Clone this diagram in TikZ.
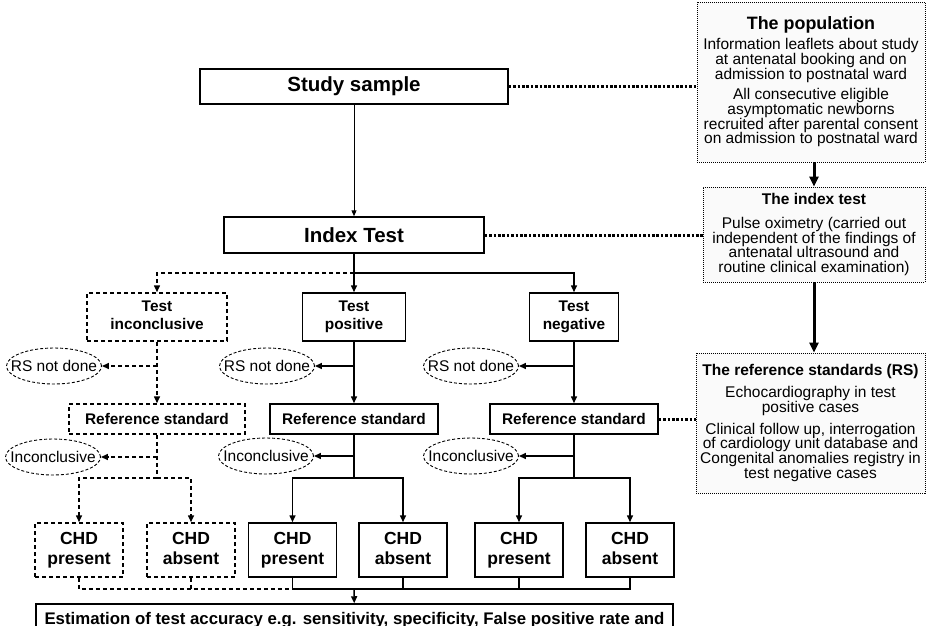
\documentclass[tikz,border=0pt]{standalone}
\usepackage{fontspec}
\setmainfont{Liberation Sans}
\usetikzlibrary{shapes.geometric,arrows.meta}

\begin{document}
\begin{tikzpicture}[x=1pt,y=-1pt,
	wire/.style={line width=1.5pt},
	dashy/.style={dash pattern=on 4pt off 3pt},
	dwire/.style={wire,dashy},
	arr/.style={wire,-{Triangle[length=7pt,width=6pt]}},
	darr/.style={arr,dashy},
	box/.style={draw,wire,fill=white,align=center,inner sep=0pt,font=\bfseries\fontsize{15.4}{18}\selectfont},
	dbox/.style={box,dashy},
	chd/.style={box,minimum width=88pt,minimum height=54pt,font=\bfseries\fontsize{17.5}{20}\selectfont},
	oval/.style={ellipse,draw,line width=0.9pt,dash pattern=on 3pt off 2pt,inner sep=0pt,minimum width=95pt,minimum height=36pt,font=\fontsize{15.5}{17}\selectfont},
	info/.style={draw,line width=0.9pt,dash pattern=on 1pt off 1pt,fill=gray!4,align=center,inner sep=0pt,font=\fontsize{15.5}{14.7}\selectfont},
	link/.style={line width=3pt,dash pattern=on 2.6pt off 1.8pt},
	bigarr/.style={line width=3pt,-{Triangle[length=10pt,width=9pt]}}]
	\path[use as bounding box,clip] (0,0) rectangle (927,626);

	\node[box,minimum width=308pt,minimum height=35pt,font=\bfseries\fontsize{20.5}{24}\selectfont] (study) at (354,86.5) {Study sample};
	\node[box,minimum width=260pt,minimum height=36pt,font=\bfseries\fontsize{20.5}{24}\selectfont] (index) at (354,235) {Index Test};
	\coordinate (split) at (354,273);

	\node[dbox,minimum width=140pt,minimum height=48pt] (tinc) at (157,317) {Test\\inconclusive\vphantom{p}};
	\node[box,minimum width=103pt,minimum height=48pt] (tpos) at (354,317) {Test\\positive};
	\node[box,minimum width=89pt,minimum height=48pt] (tneg) at (574,317) {Test\\negative};

	\node[oval] (nd1) at (54,366) {\makebox[0pt]{RS not done}};
	\node[oval] (nd2) at (267,366) {\makebox[0pt]{RS not done}};
	\node[oval] (nd3) at (471,366) {\makebox[0pt]{RS not done}};

	\node[dbox,minimum width=176pt,minimum height=30pt] (rs1) at (157,419) {Reference standard};
	\node[box,minimum width=168pt,minimum height=30pt] (rs2) at (354,419) {Reference standard};
	\node[box,minimum width=168pt,minimum height=30pt] (rs3) at (574,419) {Reference standard};

	\node[oval] (inc1) at (53,457) {\makebox[0pt]{Inconclusive}};
	\node[oval] (inc2) at (266,456) {\makebox[0pt]{Inconclusive}};
	\node[oval] (inc3) at (471,456) {\makebox[0pt]{Inconclusive}};
	\coordinate (b1) at (157,478);
	\coordinate (b2) at (354,478);
	\coordinate (b3) at (574,478);

	\node[chd,dashy] (chd1) at (79,550) {CHD\\present};
	\node[chd,dashy] (chd2) at (191,550) {CHD\\absent\vphantom{p}};
	\node[chd] (chd3) at (292.5,550) {CHD\\present};
	\node[chd] (chd4) at (403,550) {CHD\\absent\vphantom{p}};
	\node[chd] (chd5) at (519,550) {CHD\\present};
	\node[chd] (chd6) at (630,550) {CHD\\absent\vphantom{p}};
	\coordinate (bus) at (354,589);

	\node[box,minimum width=637pt,minimum height=32pt,font=\bfseries\fontsize{16.8}{18}\selectfont] (est) at (354.5,620) {Estimation of test accuracy e.g. sensitivity, specificity, False positive rate and};

	\node[info,minimum width=228pt,minimum height=160pt] (pop) at (811,82) {{\bfseries\fontsize{17.9}{20}\selectfont The population}\\[4pt]
		Information leaflets about study\\at antenatal booking and on\\admission to postnatal ward\\[6pt]
		All consecutive eligible\\asymptomatic newborns\\recruited after parental consent\\on admission to postnatal ward};
	\node[info,minimum width=222pt,minimum height=95pt] (itb) at (814,234.5) {{\bfseries The index test}\\[9pt]
		Pulse oximetry (carried out\\independent of the findings of\\antenatal ultrasound and\\routine clinical examination)};
	\node[info,minimum width=229pt,minimum height=140pt] (rsb) at (810.5,423) {{\bfseries The reference standards (RS)}\\[7pt]
		Echocardiography in test\\positive cases\\[7pt]
		Clinical follow up, interrogation\\of cardiology unit database and\\Congenital anomalies registry in\\test negative cases};

	\draw[line width=1pt,-{Triangle[length=6pt,width=5pt]}] (study) -- (index);
	\draw[link] (study.east) -- (study.east -| pop.west);
	\draw[link] (index.east) -- (index.east -| itb.west);
	\draw[link] (rs3.east) -- (rs3.east -| rsb.west);
	\draw[bigarr] (pop.south -| itb.north) -- (itb.north);
	\draw[bigarr] (itb.south) -- (itb.south |- rsb.north);

	\draw[arr] (index) -- (tpos);
	\draw[arr] (split) -| (tneg);
	\draw[darr] (split) -| (tinc);

	\draw[darr] (tinc) -- (rs1);
	\draw[arr] (tpos) -- (rs2);
	\draw[arr] (tneg) -- (rs3);
	\draw[darr] (tinc |- nd1) -- (nd1);
	\draw[arr] (tpos |- nd2) -- (nd2);
	\draw[arr] (tneg |- nd3) -- (nd3);

	\draw[dwire] (rs1) -- (b1);
	\draw[wire] (rs2) -- (b2);
	\draw[wire] (rs3) -- (b3);
	\draw[darr] (rs1 |- inc1) -- (inc1);
	\draw[arr] (rs2 |- inc2) -- (inc2);
	\draw[arr] (rs3 |- inc3) -- (inc3);
	\draw[darr] (b1) -| (chd1);
	\draw[darr] (b1) -| (chd2);
	\draw[arr] (b2) -| (chd3);
	\draw[arr] (b2) -| (chd4);
	\draw[arr] (b3) -| (chd5);
	\draw[arr] (b3) -| (chd6);

	\draw[dwire] (chd1.south) |- (bus -| chd3.south);
	\draw[dwire] (chd2.south) -- (chd2.south |- bus);
	\draw[wire] (chd3.south) |- (bus -| chd6.south) -- (chd6.south);
	\draw[wire] (chd4.south) -- (chd4.south |- bus);
	\draw[wire] (chd5.south) -- (chd5.south |- bus);
	\draw[arr] (bus) -- (est);
\end{tikzpicture}
\end{document}
